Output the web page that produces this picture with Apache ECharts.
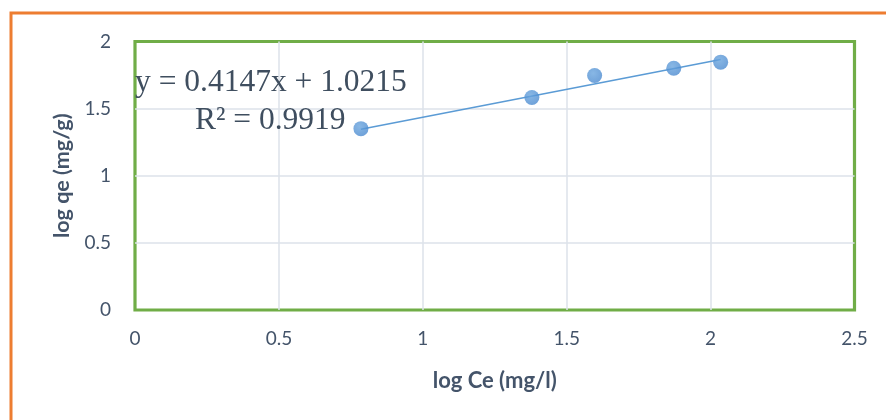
<!DOCTYPE html>
<html>
<head>
<meta charset="utf-8">
<script src="https://cdn.jsdelivr.net/npm/echarts@6/dist/echarts.min.js"></script>
<style>
  html, body { margin: 0; padding: 0; background: #fff; }
  #chart { width: 886px; height: 420px; }
</style>
</head>
<body>
<div id="chart"></div>
<script>
// Freundlich isotherm: log qe against log Ce
const logCe = [0.785, 1.379, 1.597, 1.872, 2.035];
const logQe = [1.351, 1.583, 1.747, 1.801, 1.846];

// Linear trendline reported on the chart
const slope = 0.4147;
const intercept = 1.0215;
const rSquared = 0.9919;

const xTicks = [0, 0.5, 1, 1.5, 2, 2.5];
const yTicks = [0, 0.5, 1, 1.5, 2];

const xTitle = 'log Ce (mg/l)';
const yTitle = 'log qe (mg/g)';

const points = logCe.map((x, i) => [x, logQe[i]]);
const xFirst = Math.min(...logCe);
const xLast = Math.max(...logCe);
const trend = [
  [xFirst, slope * xFirst + intercept],
  [xLast, slope * xLast + intercept]
];

const tickColor = '#44546A';
const textColor = '#3F4E5F';
const gridLine = { show: true, showMinLine: false, showMaxLine: false, lineStyle: { color: '#DCE2EA', width: 1.5 } };

const chart = echarts.init(document.getElementById('chart'), null, { renderer: 'canvas' });
chart.setOption({
  animation: false,
  backgroundColor: '#ffffff',
  grid: {
    left: 135, top: 41.5, right: 31.5, bottom: 110,
    show: true,
    borderColor: '#70AD47',
    borderWidth: 3.2,
    backgroundColor: 'transparent'
  },
  xAxis: {
    type: 'value',
    min: xTicks[0], max: xTicks[xTicks.length - 1], interval: 0.5,
    name: xTitle,
    nameLocation: 'middle',
    nameGap: 60,
    nameTextStyle: { fontFamily: 'Lato', fontWeight: 'bold', fontSize: 22, color: tickColor },
    axisLine: { show: false },
    axisTick: { show: false },
    axisLabel: { fontFamily: 'Lato', fontSize: 19, color: tickColor, margin: 19 },
    splitLine: gridLine
  },
  yAxis: {
    type: 'value',
    min: yTicks[0], max: yTicks[yTicks.length - 1], interval: 0.5,
    name: yTitle,
    nameLocation: 'middle',
    nameGap: 62,
    nameTextStyle: { fontFamily: 'Lato', fontWeight: 'bold', fontSize: 21.5, color: tickColor },
    axisLine: { show: false },
    axisTick: { show: false },
    axisLabel: { fontFamily: 'Lato', fontSize: 19, color: tickColor, margin: 24 },
    splitLine: gridLine
  },
  graphic: [
    {
      type: 'rect',
      silent: true,
      shape: { x: 11, y: 13, width: 1000, height: 1000 },
      style: { fill: 'none', stroke: '#ED7D31', lineWidth: 3 }
    },
    {
      type: 'text',
      left: 135, top: 67, z: 100,
      style: {
        text: 'y = ' + slope + 'x + ' + intercept,
        font: '31.5px "Liberation Serif"',
        fill: textColor
      }
    },
    {
      type: 'text',
      left: 195, top: 105, z: 100,
      style: {
        text: 'R\u00B2 = ' + rSquared,
        font: '31.5px "Liberation Serif"',
        fill: textColor
      }
    }
  ],
  series: [
    {
      type: 'line',
      data: trend,
      symbol: 'none',
      lineStyle: { color: '#5B9BD5', width: 1.5 },
      z: 2
    },
    {
      type: 'scatter',
      data: points,
      symbol: 'circle',
      symbolSize: 15,
      itemStyle: {
        color: new echarts.graphic.RadialGradient(0.4, 0.35, 0.7, [
          { offset: 0, color: '#6AA5DE' },
          { offset: 1, color: '#4A89CF' }
        ])
      },
      z: 3
    }
  ]
});
</script>
</body>
</html>
